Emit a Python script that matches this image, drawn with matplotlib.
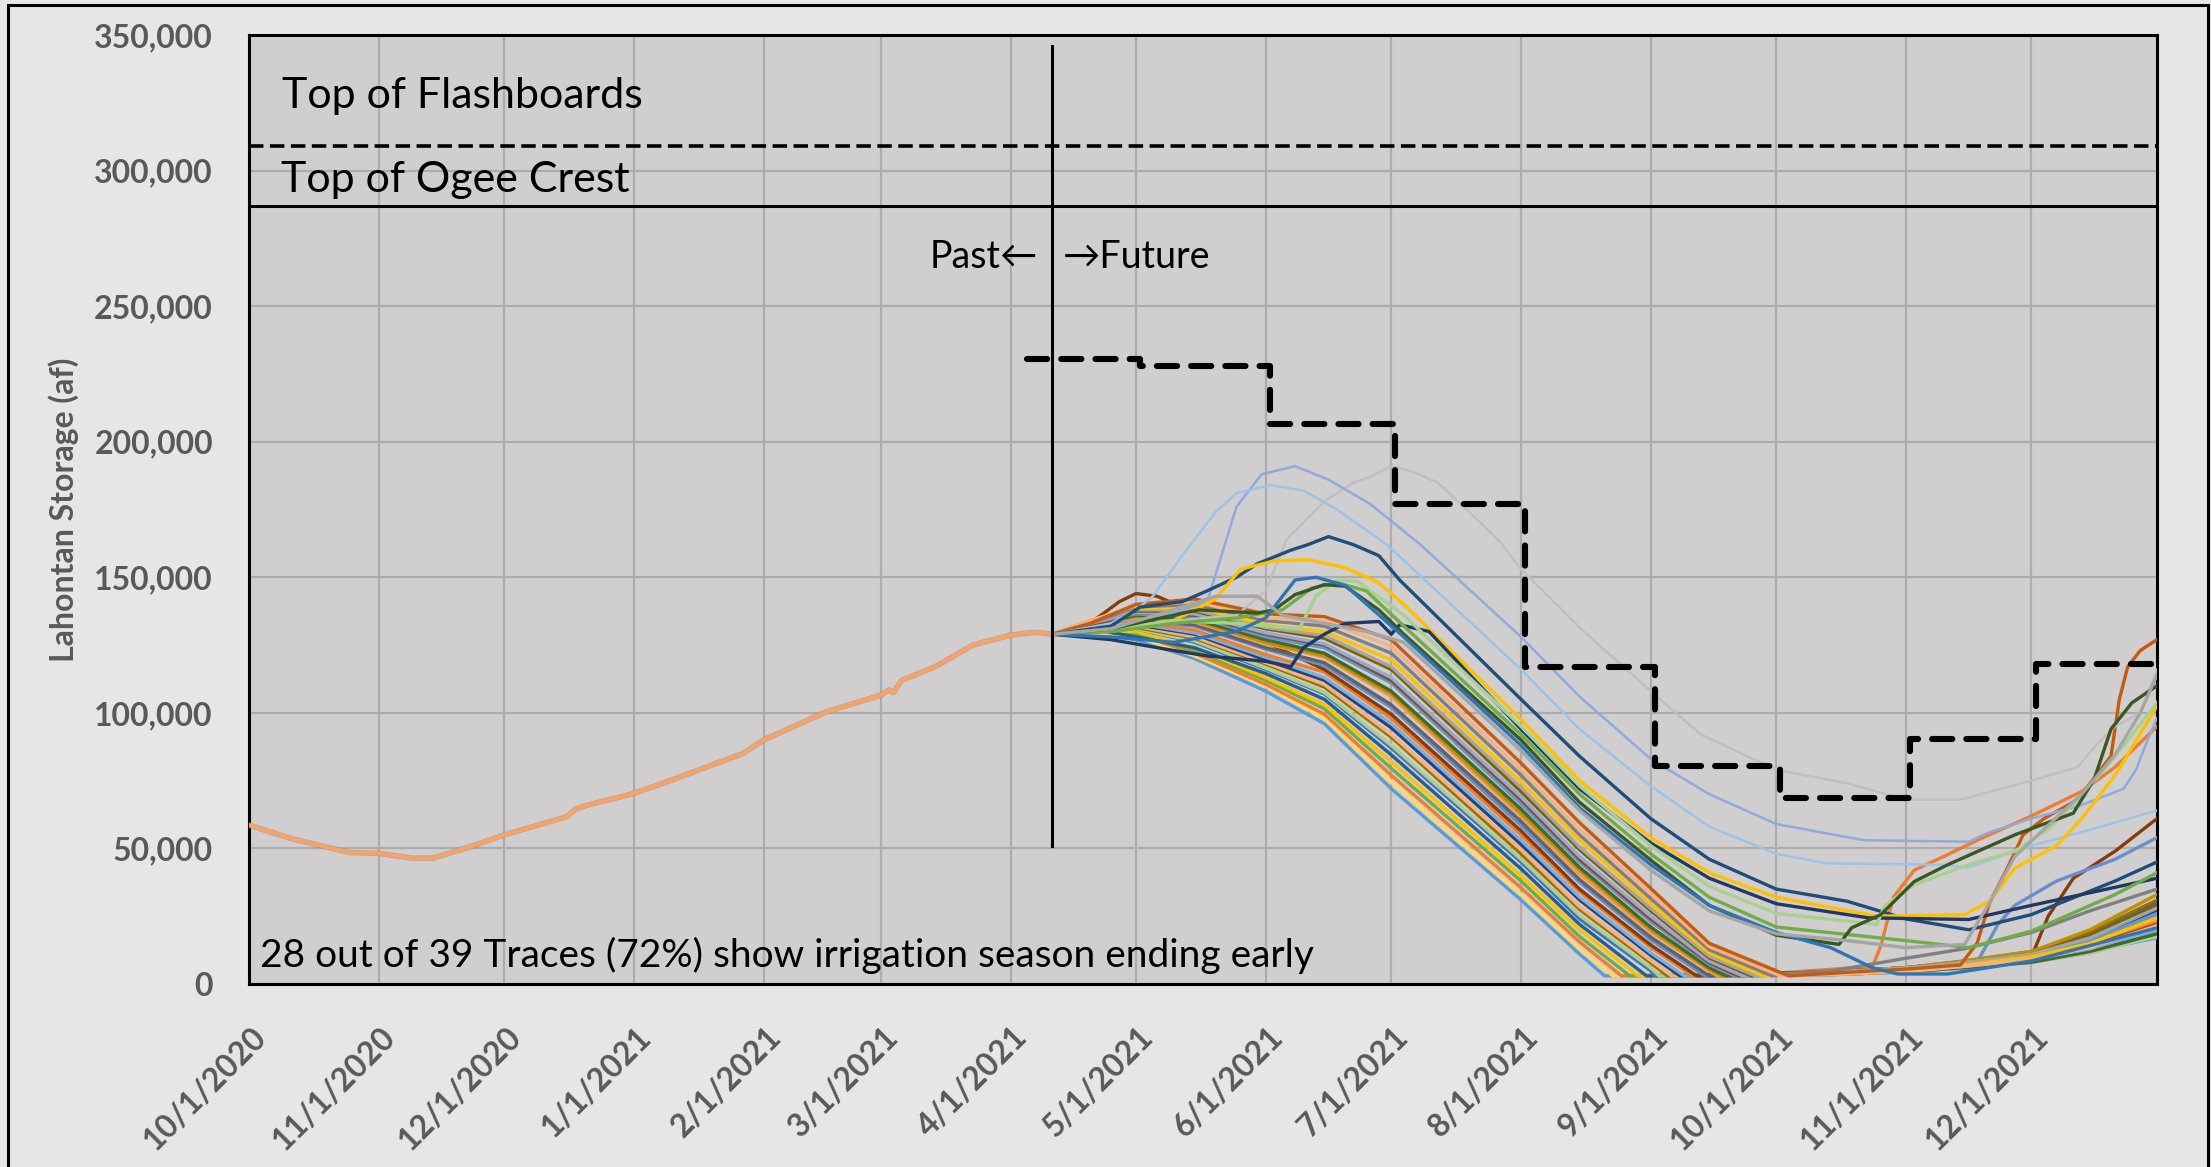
import matplotlib
matplotlib.use("Agg")
import matplotlib.pyplot as plt
import matplotlib.transforms as mtransforms
import matplotlib.patheffects as pe
from matplotlib.patches import Rectangle
from matplotlib.ticker import FuncFormatter, MultipleLocator
from datetime import datetime

plt.rcParams['font.family'] = ['Lato', 'DejaVu Sans']

# ---- data (storage in thousand acre-feet) ----
hist_dates = ["2020-10-01", "2020-10-11", "2020-10-25", "2020-11-01", "2020-11-09", "2020-11-14",
              "2020-11-23", "2020-12-01", "2020-12-16", "2020-12-18", "2020-12-21", "2021-01-01",
              "2021-01-10", "2021-01-27", "2021-02-01", "2021-02-16", "2021-03-01", "2021-03-03",
              "2021-03-04", "2021-03-06", "2021-03-14", "2021-03-23", "2021-04-01", "2021-04-07",
              "2021-04-11"]
hist_storage = [58.6, 53.7, 48.5, 48.2, 46.4, 46.4,
                50.7, 55.0, 61.7, 64.5, 66.0, 70.3,
                75.2, 85.0, 90.0, 100.4, 106.5, 108.5,
                107.5, 112.0, 117.0, 125.0, 128.7, 129.7,
                129.0]

target_dates = ["2021-04-05", "2021-05-02", "2021-06-02", "2021-07-02", "2021-08-02",
                "2021-09-02", "2021-10-02", "2021-11-02", "2021-12-02", "2021-12-31"]
target_storage = [230.5, 228.0, 206.5, 177.0, 117.0, 80.5, 68.5, 90.5, 118.0, 118.0]

flashboards = 309.0
ogee_crest = 287.0
forecast_start = "2021-04-11"

# traces that stay above empty through October
gray_hi = [("4/11", 129), ("4/25", 131), ("5/10", 134), ("5/25", 136), ("6/1", 145), ("6/6", 164),
           ("6/10", 170), ("6/15", 178), ("6/22", 185), ("6/26", 187), ("7/1", 191), ("7/6", 189),
           ("7/12", 185), ("7/19", 175), ("7/27", 163), ("8/1", 153), ("8/16", 130), ("9/1", 108),
           ("9/13", 92), ("10/1", 79), ("10/18", 74), ("11/1", 68), ("11/14", 68), ("12/1", 75),
           ("12/12", 80), ("12/17", 89), ("12/21", 95), ("12/27", 100), ("12/31", 116)]
medblue_hi = [("4/11", 129), ("4/25", 132), ("5/10", 137), ("5/18", 141), ("5/21", 156), ("5/25", 176),
              ("5/31", 188), ("6/8", 191), ("6/16", 186), ("6/26", 177), ("7/8", 162), ("7/20", 145),
              ("8/1", 128), ("8/15", 106), ("9/1", 83), ("9/15", 70), ("10/1", 59), ("10/22", 53),
              ("11/16", 52.5), ("11/21", 56), ("12/1", 61), ("12/13", 66), ("12/23", 72), ("12/26", 79),
              ("12/29", 91), ("12/31", 98)]
ltblue_hi = [("4/11", 129), ("4/25", 133), ("5/1", 138), ("5/5", 143), ("5/13", 160), ("5/20", 174),
             ("5/25", 181), ("6/2", 184), ("6/10", 182), ("6/18", 175), ("6/30", 162), ("7/9", 149),
             ("7/23", 129), ("8/1", 116), ("8/15", 94), ("9/1", 73), ("9/15", 58), ("10/1", 48),
             ("10/13", 44.5), ("11/9", 44), ("11/16", 43), ("12/1", 51), ("12/13", 56), ("12/31", 64)]
dkblue = [("4/11", 129), ("4/25", 132), ("5/2", 139), ("5/12", 141), ("5/18", 145), ("5/25", 150),
          ("5/30", 155), ("6/7", 160), ("6/11", 162), ("6/16", 165), ("6/22", 162), ("6/28", 158),
          ("7/3", 149), ("8/1", 105), ("8/15", 84), ("9/1", 61), ("9/15", 46), ("10/1", 35),
          ("10/18", 30.5), ("11/1", 24), ("11/16", 20), ("12/1", 25.6), ("12/21", 38), ("12/31", 45)]
yellow = [("4/11", 129), ("4/25", 130), ("5/10", 134), ("5/20", 142), ("5/26", 153), ("6/3", 156),
          ("6/11", 156.5), ("6/20", 153.5), ("6/28", 148), ("7/4", 140), ("8/1", 97.5), ("8/15", 75),
          ("9/1", 54), ("9/15", 41), ("10/1", 32), ("10/25", 25), ("11/15", 25.6), ("11/21", 30.5),
          ("11/27", 42.7), ("12/7", 51), ("12/13", 61), ("12/21", 77), ("12/31", 102.5)]
navy = [("4/11", 129), ("4/25", 127), ("5/10", 123), ("5/18", 121), ("6/1", 119), ("6/7", 117),
        ("6/10", 124), ("6/15", 129), ("6/20", 133), ("6/28", 133.7), ("7/1", 129), ("7/3", 132.5),
        ("7/10", 130), ("8/1", 94), ("8/15", 72), ("9/1", 52), ("9/15", 39), ("10/1", 29.6),
        ("10/23", 24.4), ("11/16", 23.8), ("12/1", 29), ("12/31", 39)]
ltgreen = [("4/11", 129), ("4/25", 131), ("5/10", 134), ("5/25", 133), ("6/9", 131), ("6/13", 143),
           ("6/18", 149), ("6/23", 148.5), ("7/4", 136), ("8/1", 95), ("8/15", 73), ("9/1", 51),
           ("9/15", 36), ("10/1", 26), ("10/25", 22), ("10/27", 29), ("11/3", 36.6), ("11/16", 44),
           ("11/27", 49), ("12/5", 57), ("12/13", 69.5), ("12/21", 84), ("12/31", 103.7)]
green = [("4/11", 129), ("4/25", 130), ("5/10", 133), ("5/25", 135), ("6/5", 138), ("6/12", 146),
         ("6/18", 148), ("6/25", 145), ("7/4", 132), ("8/1", 92), ("8/15", 70), ("9/1", 48),
         ("9/15", 32), ("10/1", 21), ("11/1", 16), ("11/16", 13.4), ("12/1", 19.5), ("12/21", 33),
         ("12/31", 41)]
dkgreen = [("4/11", 129), ("4/25", 131), ("5/16", 138), ("5/23", 137.4), ("5/30", 136.8), ("6/3", 138),
           ("6/8", 143.6), ("6/15", 147.3), ("6/20", 146.7), ("6/28", 138), ("7/4", 129), ("8/1", 90),
           ("8/15", 67), ("9/1", 45.7), ("9/15", 29), ("10/1", 18), ("10/16", 14.6), ("10/19", 20.7),
           ("10/26", 25.6), ("11/3", 37.8), ("11/11", 44), ("11/27", 55), ("12/11", 63),
           ("12/16", 75.6), ("12/20", 94), ("12/25", 103.7), ("12/31", 110)]
blue = [("4/11", 129), ("4/25", 128), ("5/10", 126), ("5/25", 130), ("6/1", 135), ("6/8", 149),
        ("6/13", 150), ("6/20", 147), ("7/4", 128), ("8/1", 88), ("8/15", 65), ("9/1", 44),
        ("9/15", 29), ("10/1", 19), ("10/14", 13.4), ("10/24", 6), ("10/30", 3.7), ("11/11", 3.7),
        ("12/1", 8.5), ("12/31", 20.7)]
gray = [("4/11", 129), ("4/25", 131), ("5/10", 138), ("5/20", 143), ("5/30", 143), ("6/5", 136),
        ("6/15", 133), ("6/25", 130), ("7/4", 126), ("8/1", 86), ("8/15", 64), ("9/1", 42),
        ("9/15", 27), ("10/1", 18.5), ("10/18", 16), ("11/1", 13.4), ("11/15", 14.6), ("11/21", 30),
        ("11/27", 47), ("12/6", 60), ("12/13", 70), ("12/21", 84.6), ("12/27", 100), ("12/31", 114)]

# traces that hit the bottom (irrigation season ends early)
e01 = [("4/11", 129), ("4/20", 130), ("5/1", 127), ("5/15", 120), ("6/1", 108), ("6/15", 96), ("7/1", 72),
       ("8/1", 31), ("8/15", 11), ("8/21", 3), ("10/15", 4), ("11/1", 5), ("11/15", 6.5), ("12/1", 8.5),
       ("12/15", 12), ("12/31", 17)]
e02 = [("4/11", 129), ("4/20", 129), ("5/1", 128), ("5/15", 121), ("6/1", 110), ("6/15", 98), ("7/1", 74.5),
       ("8/1", 33), ("8/15", 13), ("8/23", 3), ("10/15", 4), ("11/1", 5), ("11/15", 6.5), ("12/1", 9),
       ("12/15", 13), ("12/31", 19)]
e03 = [("4/11", 129), ("4/20", 130), ("5/1", 129), ("5/15", 122), ("6/1", 110.5), ("6/15", 99.5),
       ("7/1", 77), ("8/1", 35.5), ("8/15", 15.5), ("8/25", 3), ("10/1", 4), ("10/24", 6.5), ("10/26", 14),
       ("10/29", 32), ("11/3", 42), ("11/10", 47), ("11/18", 53), ("12/1", 62), ("12/13", 71),
       ("12/21", 80), ("12/31", 95)]
e04 = [("4/11", 129), ("4/20", 131), ("5/1", 129), ("5/15", 123), ("6/1", 112), ("6/15", 101.5),
       ("7/1", 79.5), ("8/1", 38), ("8/15", 17.5), ("8/27", 3), ("10/15", 3.5), ("11/1", 4.5),
       ("11/15", 6), ("12/1", 8), ("12/15", 11.5), ("12/31", 18)]
e05 = [("4/11", 129), ("4/20", 130), ("5/1", 130), ("5/15", 124), ("6/1", 113), ("6/15", 103), ("7/1", 82),
       ("8/1", 40), ("8/15", 20), ("8/29", 3), ("10/15", 4), ("11/1", 5.5), ("11/15", 7), ("12/1", 9.5),
       ("12/15", 14.5), ("12/31", 22)]
e06 = [("4/11", 129), ("4/20", 131), ("5/1", 128), ("5/15", 124), ("6/1", 114.5), ("6/15", 105),
       ("7/1", 84.5), ("8/1", 42.5), ("8/15", 22), ("8/31", 3), ("10/15", 4), ("11/1", 5), ("11/15", 6.5),
       ("12/1", 9), ("12/15", 13), ("12/31", 20)]
e07 = [("4/11", 129), ("4/20", 130), ("5/1", 131), ("5/15", 126), ("6/1", 116), ("6/15", 107), ("7/1", 87),
       ("8/1", 45), ("8/15", 24), ("9/1", 4.9), ("9/2", 3), ("10/15", 4.5), ("11/1", 6), ("11/15", 7.5),
       ("12/1", 10), ("12/15", 15), ("12/31", 25)]
e08 = [("4/11", 129), ("4/20", 131), ("5/1", 131), ("5/15", 126.5), ("6/1", 116.5), ("6/15", 107.5),
       ("7/1", 88), ("8/1", 46), ("8/15", 25.3), ("9/1", 5.9), ("9/3", 3), ("10/15", 3.5), ("11/1", 4.5),
       ("11/15", 6), ("12/1", 8), ("12/15", 11.5), ("12/31", 17.5)]
e09 = [("4/11", 129), ("4/20", 132), ("5/1", 131.5), ("5/15", 127.5), ("6/1", 118), ("6/15", 109.5),
       ("7/1", 91), ("8/1", 48), ("8/15", 27.5), ("9/1", 7.8), ("9/5", 3), ("10/15", 4.5), ("11/1", 6),
       ("11/15", 8.5), ("12/1", 12), ("12/15", 19), ("12/31", 31)]
e10 = [("4/11", 129), ("4/20", 131), ("5/1", 132), ("5/15", 128), ("6/1", 118.5), ("6/15", 110.5),
       ("7/1", 92), ("8/1", 49.5), ("8/15", 28.5), ("9/1", 8.7), ("9/6", 3), ("10/15", 4), ("11/1", 5.5),
       ("11/15", 7), ("12/1", 9.5), ("12/15", 14), ("12/31", 21)]
e11 = [("4/11", 129), ("4/20", 132), ("5/1", 132.5), ("5/15", 129), ("6/1", 119.5), ("6/15", 112),
       ("7/1", 94.5), ("8/1", 51.5), ("8/15", 31), ("9/1", 10.6), ("9/8", 3), ("10/15", 4.5), ("11/1", 6),
       ("11/15", 8), ("12/1", 11), ("12/15", 17), ("12/31", 27)]
e12 = [("4/11", 129), ("4/20", 131), ("5/1", 133), ("5/15", 129.5), ("6/1", 120.5), ("6/15", 113),
       ("7/1", 96), ("8/1", 53), ("8/15", 32), ("9/1", 11.5), ("9/9", 3), ("10/15", 3.5), ("11/1", 4.5),
       ("11/15", 6), ("12/1", 8.5), ("12/15", 12.5), ("12/31", 19.5)]
e13 = [("4/11", 129), ("4/20", 132), ("5/1", 133.5), ("5/15", 130.5), ("6/1", 121.5), ("6/15", 115),
       ("7/1", 98), ("8/1", 55), ("8/15", 34), ("9/1", 13.5), ("9/11", 3), ("10/15", 4), ("11/1", 5.5),
       ("11/15", 7), ("12/1", 9.5), ("12/15", 14.5), ("12/31", 23)]
e14 = [("4/11", 129), ("4/20", 133), ("4/27", 141), ("5/1", 144), ("5/6", 143), ("5/12", 139),
       ("5/17", 138), ("6/1", 126), ("6/15", 116), ("7/1", 99.5), ("8/1", 56.5), ("8/15", 35),
       ("9/1", 14.4), ("9/12", 3), ("10/15", 4), ("11/1", 5.5), ("11/15", 7.5), ("12/1", 10),
       ("12/5", 25), ("12/11", 39), ("12/21", 49), ("12/31", 61)]
e15 = [("4/11", 129), ("4/20", 132), ("5/1", 134), ("5/15", 132), ("6/1", 123.5), ("6/15", 117.5),
       ("7/1", 102), ("8/1", 58.5), ("8/15", 37.5), ("9/1", 16.3), ("9/14", 3), ("10/15", 4), ("11/1", 5),
       ("11/18", 8), ("11/23", 22), ("11/27", 29), ("12/7", 38), ("12/21", 46), ("12/31", 54)]
e16 = [("4/11", 129), ("4/20", 133), ("5/1", 134.5), ("5/15", 132.5), ("6/1", 124), ("6/15", 118.5),
       ("7/1", 103), ("8/1", 60), ("8/15", 38.5), ("9/1", 17.3), ("9/15", 3), ("10/15", 4.5), ("11/1", 6),
       ("11/15", 8), ("12/1", 11), ("12/15", 18), ("12/31", 30)]
e17 = [("4/11", 129), ("4/20", 132), ("5/1", 135), ("5/15", 133.5), ("6/1", 125.5), ("6/15", 120.5),
       ("7/1", 106), ("8/1", 62), ("8/15", 40.5), ("9/1", 19.2), ("9/15", 4.8), ("9/17", 3), ("10/15", 4),
       ("11/1", 5.5), ("11/15", 7), ("12/1", 9.5), ("12/15", 15), ("12/31", 24)]
e18 = [("4/11", 129), ("4/20", 133), ("5/1", 135.5), ("5/15", 134), ("6/1", 126), ("6/15", 121),
       ("7/1", 107), ("8/1", 63), ("8/15", 42), ("9/1", 20), ("9/15", 5.4), ("9/18", 3), ("10/15", 4.5),
       ("11/1", 6), ("11/15", 8.5), ("12/1", 12), ("12/15", 20), ("12/31", 33)]
e19 = [("4/11", 129), ("4/20", 132), ("5/1", 136), ("5/15", 134.5), ("6/1", 127), ("6/15", 122),
       ("7/1", 108), ("8/1", 64.5), ("8/15", 43), ("9/1", 21), ("9/15", 6), ("9/19", 3), ("10/15", 3.5),
       ("11/1", 4.5), ("11/15", 6), ("12/1", 8), ("12/15", 12), ("12/31", 18.5)]
e20 = [("4/11", 129), ("4/20", 133), ("5/1", 136.5), ("5/15", 135.5), ("6/1", 128), ("6/15", 124),
       ("7/1", 111), ("8/1", 66.5), ("8/15", 45), ("9/1", 23), ("9/15", 7.2), ("9/21", 3), ("10/15", 4),
       ("11/1", 5.5), ("11/15", 7.5), ("12/1", 10.5), ("12/15", 16), ("12/31", 26)]
e21 = [("4/11", 129), ("4/20", 132), ("5/1", 137), ("5/15", 136), ("6/1", 129), ("6/15", 125),
       ("7/1", 112), ("8/1", 68), ("8/15", 46), ("9/1", 24), ("9/15", 7.8), ("9/22", 3), ("10/15", 4),
       ("11/1", 5.5), ("11/15", 7), ("12/1", 9.5), ("12/15", 14), ("12/31", 22)]
e22 = [("4/11", 129), ("4/20", 133), ("5/1", 137), ("5/15", 136.5), ("6/1", 129.5), ("6/15", 125.5),
       ("7/1", 113), ("8/1", 69), ("8/15", 47), ("9/1", 25), ("9/15", 8.4), ("9/23", 3), ("10/15", 3.5),
       ("11/1", 5), ("11/15", 6.5), ("12/1", 9), ("12/15", 13), ("12/31", 20.5)]
e23 = [("4/11", 129), ("4/20", 134), ("5/1", 137.5), ("5/15", 137.5), ("6/1", 131), ("6/15", 127.5),
       ("7/1", 116), ("8/1", 71), ("8/15", 49.5), ("9/1", 27), ("9/15", 9.6), ("9/25", 3), ("10/15", 4.5),
       ("11/1", 6), ("11/15", 8), ("12/1", 11), ("12/15", 17.5), ("12/31", 29)]
e24 = [("4/11", 129), ("4/20", 133), ("5/1", 138), ("5/15", 138), ("6/1", 131.5), ("6/15", 128.5),
       ("7/1", 117), ("8/1", 72.5), ("8/15", 50.5), ("9/1", 27.9), ("9/15", 10.2), ("9/26", 3),
       ("10/15", 4.5), ("11/1", 6), ("11/15", 8), ("12/1", 11), ("12/15", 17), ("12/31", 28)]
e25 = [("4/11", 129), ("4/20", 134), ("5/1", 138.5), ("5/15", 139), ("6/1", 132.5), ("6/15", 130),
       ("7/1", 119.5), ("8/1", 74.5), ("8/15", 53), ("9/1", 29.6), ("9/15", 11.4), ("9/28", 3),
       ("10/15", 4), ("11/1", 5.5), ("11/15", 7), ("12/1", 10), ("12/15", 15), ("12/31", 24.5)]
e26 = [("4/11", 129), ("4/20", 133), ("5/1", 139), ("5/15", 140), ("6/1", 134), ("6/15", 132),
       ("7/1", 122), ("8/1", 77), ("8/15", 55), ("9/1", 31.5), ("9/15", 12.6), ("9/30", 3), ("10/15", 5),
       ("11/1", 9.5), ("11/15", 13), ("12/1", 19), ("12/15", 27), ("12/31", 35)]
e27 = [("4/11", 129), ("4/20", 134), ("5/1", 139.5), ("5/15", 141), ("6/1", 135), ("6/15", 134),
       ("7/1", 124.5), ("8/1", 79), ("8/15", 57), ("9/1", 33.4), ("9/15", 13.8), ("10/2", 3),
       ("10/15", 3.5), ("11/1", 4.5), ("11/15", 6.5), ("12/1", 9), ("12/15", 13.5), ("12/31", 21.5)]
e28 = [("4/11", 129), ("4/20", 133), ("5/1", 140), ("5/15", 142), ("6/1", 136.5), ("6/15", 135.5),
       ("7/1", 127), ("8/1", 81.5), ("8/15", 59.5), ("9/1", 35.3), ("9/15", 15), ("10/4", 3),
       ("10/20", 4.5), ("11/1", 5.5), ("11/14", 7), ("11/18", 15), ("11/21", 30), ("11/25", 42),
       ("11/29", 55), ("12/4", 61), ("12/12", 68), ("12/20", 84), ("12/22", 105), ("12/24", 117),
       ("12/27", 123), ("12/31", 127)]

early_traces = [e01, e02, e03, e04, e05, e06, e07, e08, e09, e10, e11, e12, e13, e14,
                e15, e16, e17, e18, e19, e20, e21, e22, e23, e24, e25, e26, e27, e28]
early_colors = ["#5B9BD5", "#FFD966", "#ED7D31", "#70AD47", "#FFC000", "#255E91", "#4472C4",
                "#A9D18E", "#997300", "#F4B183", "#264478", "#7CAFDD", "#ED7D31", "#843C0C",
                "#698ED0", "#636363", "#F1975A", "#BF9000", "#43682B", "#5B9BD5", "#9E480E",
                "#8FAADC", "#806000", "#A5A5A5", "#FFC000", "#7F7F7F", "#F4B183", "#C55A11"]

late_traces = [gray_hi, medblue_hi, ltblue_hi, dkblue, yellow, navy, ltgreen, green, dkgreen, blue, gray]
late_colors = ["#BFBFBF", "#8FAADC", "#9DC3E6", "#1F4E79", "#FFC000", "#203864", "#A9D18E",
               "#70AD47", "#385723", "#2E75B6", "#A5A5A5"]
late_widths = [1.7, 1.8, 1.8, 2.4, 2.4, 2.4, 2.4, 2.4, 2.4, 2.4, 2.4]

month_ticks = ["2020-10-01", "2020-11-01", "2020-12-01", "2021-01-01", "2021-02-01", "2021-03-01",
               "2021-04-01", "2021-05-01", "2021-06-01", "2021-07-01", "2021-08-01", "2021-09-01",
               "2021-10-01", "2021-11-01", "2021-12-01"]


def d(s):
    return datetime.strptime(s, "%Y-%m-%d")


def trace_xy(trace):
    xs = [datetime.strptime(md + "/2021", "%m/%d/%Y") for md, _ in trace]
    ys = [v * 1000 for _, v in trace]
    return xs, ys


fig = plt.figure(figsize=(22.11, 11.67), dpi=100)
fig.patch.set_facecolor("#E7E6E6")
fig.add_artist(Rectangle((8 / 2211, -0.02), 2200 / 2211, 1.02 - 5 / 1167, transform=fig.transFigure,
                         fill=False, edgecolor="black", linewidth=2.2))

ax = fig.add_axes([249 / 2211, 1 - 984 / 1167, 1908 / 2211, 949 / 1167])
ax.set_facecolor("#D0CECE")

# forecast traces
for tr, col in zip(early_traces, early_colors):
    xs, ys = trace_xy(tr)
    ax.plot(xs, ys, color=col, lw=2.4, solid_joinstyle="round", zorder=3)
for tr, col, w in zip(late_traces, late_colors, late_widths):
    xs, ys = trace_xy(tr)
    ax.plot(xs, ys, color=col, lw=w, solid_joinstyle="round", zorder=3)

# historical storage
ax.plot([d(s) for s in hist_dates], [v * 1000 for v in hist_storage], color="#F4A46B", lw=3.0,
        zorder=4, path_effects=[pe.Stroke(linewidth=4.0, foreground="#B98057", alpha=0.55), pe.Normal()])

# monthly target (dashed step)
ax.plot([d(s) for s in target_dates], [v * 1000 for v in target_storage], color="black", lw=4.4,
        drawstyle="steps-post", linestyle=(0, (3.3, 2.3)), dash_capstyle="round", zorder=5)

# reference lines
ax.axhline(flashboards * 1000, color="black", lw=2.6, linestyle=(0, (4, 1.8)), zorder=5)
ax.axhline(ogee_crest * 1000, color="black", lw=2.2, zorder=5)
ax.plot([d(forecast_start)] * 2, [51000, 346000], color="black", lw=2.2, zorder=5)

ax.set_xlim(d("2020-10-01"), d("2021-12-31"))
ax.set_ylim(0, 350000)
ax.set_xticks([d(s) for s in month_ticks])
ax.set_xticklabels([f"{d(s).month}/{d(s).day}/{d(s).year}" for s in month_ticks])
ax.yaxis.set_major_locator(MultipleLocator(50000))
ax.yaxis.set_major_formatter(FuncFormatter(lambda v, p: f"{v:,.0f}"))

ax.grid(True, color="#ADABAB", lw=1.6)
ax.set_axisbelow(True)
for sp in ax.spines.values():
    sp.set_color("black")
    sp.set_linewidth(2.2)

ax.tick_params(axis="both", length=0, labelcolor="#595959", labelsize=23)
ax.tick_params(axis="y", pad=26)
ax.tick_params(axis="x", pad=27)
offset = mtransforms.ScaledTranslation(2 / 100, 0, fig.dpi_scale_trans)
for lab in ax.get_xticklabels():
    lab.set_rotation(45)
    lab.set_ha("right")
    lab.set_va("top")
    lab.set_rotation_mode("anchor")
    lab.set_fontweight("bold")
    lab.set_transform(lab.get_transform() + offset)
for lab in ax.get_yticklabels():
    lab.set_fontweight("bold")

fig.text(64 / 2211, 1 - 509.5 / 1167, "Lahontan Storage (af)", rotation=90, ha="center", va="center",
         fontsize=23, fontweight="bold", color="#595959")

ax.text(0.0173, 0.9231, "Top of Flashboards", transform=ax.transAxes, fontsize=31, va="baseline",
        ha="left", color="black", zorder=6)
ax.text(0.0168, 0.8346, "Top of Ogee Crest", transform=ax.transAxes, fontsize=31, va="baseline",
        ha="left", color="black", zorder=6)
ax.text(0.4135, 0.7545, "Past\u2190", transform=ax.transAxes, fontsize=27, va="baseline", ha="right",
        color="black", zorder=6)
ax.text(0.4266, 0.7545, "\u2192Future", transform=ax.transAxes, fontsize=27, va="baseline", ha="left",
        color="black", zorder=6)
ax.text(0.0058, 0.0182, "28 out of 39 Traces (72%) show irrigation season ending early",
        transform=ax.transAxes, fontsize=28, va="baseline", ha="left", color="black", zorder=6)

fig.savefig("out.png", dpi=100, facecolor=fig.get_facecolor())
